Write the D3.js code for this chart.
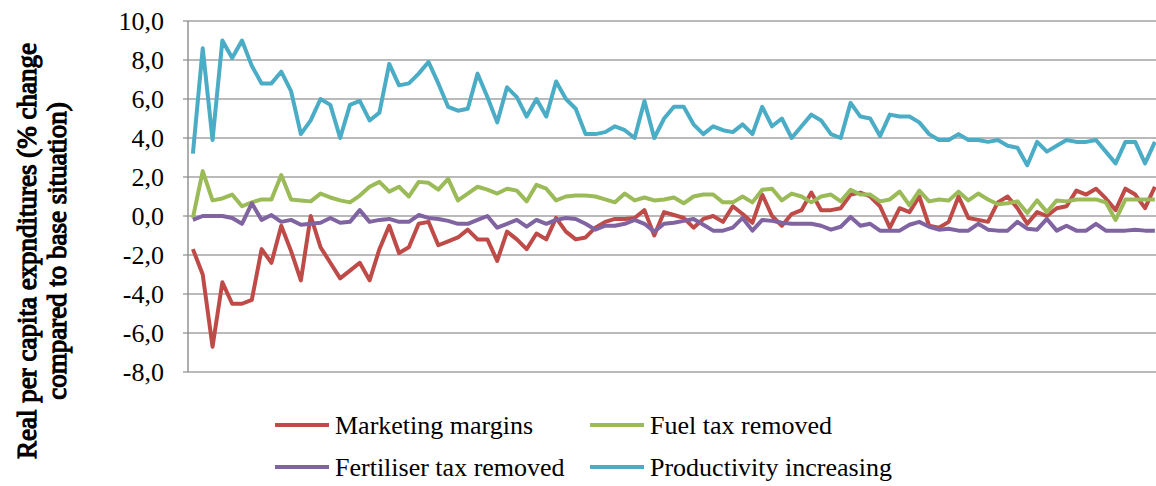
<!DOCTYPE html>
<html>
<head>
<meta charset="utf-8">
<script src="https://d3js.org/d3.v7.min.js"></script>
<style>
  body { margin: 0; background: #fff; }
  svg text { font-family: "Liberation Serif", "Times New Roman", serif; fill: #000; }
</style>
</head>
<body>
<div id="chart"></div>
<script>
// values, one point per region (99)
var marketing = [-1.7, -3.0, -6.7, -3.4, -4.5, -4.5, -4.3, -1.7, -2.4, -0.5,
  -1.8, -3.3, 0.0, -1.6, -2.4, -3.2, -2.8, -2.4, -3.3, -1.7,
  -0.5, -1.9, -1.6, -0.4, -0.3, -1.5, -1.3, -1.1, -0.7, -1.2,
  -1.2, -2.3, -0.8, -1.2, -1.7, -0.9, -1.2, -0.1, -0.8, -1.2,
  -1.1, -0.6, -0.3, -0.15, -0.15, -0.1, 0.3, -1.0, 0.2, 0.05,
  -0.1, -0.6, -0.15, 0.0, -0.3, 0.5, 0.1, -0.35, 1.1, 0.0,
  -0.5, 0.1, 0.3, 1.2, 0.3, 0.3, 0.4, 1.1, 1.2, 1.0,
  0.5, -0.6, 0.4, 0.2, 1.0, -0.5, -0.6, -0.3, 1.0, -0.1,
  -0.2, -0.3, 0.7, 1.0, 0.4, -0.4, 0.2, 0.0, 0.4, 0.5,
  1.3, 1.1, 1.4, 0.9, 0.3, 1.4, 1.1, 0.4, 1.5];

var fuelTax = [-0.1, 2.3, 0.8, 0.9, 1.1, 0.5, 0.7, 0.85, 0.85, 2.1,
  0.85, 0.8, 0.75, 1.15, 0.95, 0.8, 0.7, 1.05, 1.5, 1.75,
  1.25, 1.5, 1.0, 1.75, 1.7, 1.35, 1.9, 0.8, 1.15, 1.5,
  1.35, 1.15, 1.4, 1.3, 0.75, 1.6, 1.4, 0.8, 1.0, 1.05,
  1.05, 1.0, 0.85, 0.7, 1.15, 0.8, 0.95, 0.8, 0.85, 0.95,
  0.65, 1.0, 1.1, 1.1, 0.7, 0.7, 1.0, 0.7, 1.35, 1.4,
  0.8, 1.15, 1.0, 0.7, 1.0, 1.1, 0.75, 1.35, 1.1, 1.1,
  0.75, 0.85, 1.25, 0.55, 1.3, 0.75, 0.85, 0.8, 1.25, 0.8,
  1.15, 0.85, 0.6, 0.65, 0.75, 0.15, 0.8, 0.2, 0.8, 0.75,
  0.85, 0.85, 0.85, 0.7, -0.2, 0.85, 0.85, 0.85, 0.85];

var fertiliserTax = [-0.2, 0.0, 0.0, 0.0, -0.1, -0.4, 0.65, -0.2, 0.05, -0.3,
  -0.2, -0.45, -0.4, -0.35, -0.1, -0.35, -0.3, 0.3, -0.3, -0.2,
  -0.15, -0.3, -0.3, 0.05, -0.1, -0.15, -0.25, -0.4, -0.4, -0.2,
  0.0, -0.6, -0.4, -0.2, -0.55, -0.2, -0.4, -0.2, -0.1, -0.15,
  -0.4, -0.7, -0.5, -0.5, -0.4, -0.2, -0.4, -0.8, -0.4, -0.35,
  -0.25, -0.15, -0.45, -0.75, -0.75, -0.6, -0.1, -0.75, -0.2, -0.25,
  -0.35, -0.4, -0.4, -0.4, -0.5, -0.7, -0.55, -0.05, -0.5, -0.4,
  -0.75, -0.75, -0.75, -0.45, -0.3, -0.55, -0.7, -0.65, -0.75, -0.75,
  -0.4, -0.7, -0.75, -0.75, -0.3, -0.65, -0.7, -0.15, -0.75, -0.5,
  -0.75, -0.75, -0.4, -0.75, -0.75, -0.75, -0.7, -0.75, -0.75];

var productivity = [3.2, 8.6, 3.9, 9.0, 8.1, 9.0, 7.7, 6.8, 6.8, 7.4,
  6.4, 4.2, 4.9, 6.0, 5.7, 4.0, 5.7, 5.9, 4.9, 5.3,
  7.8, 6.7, 6.8, 7.3, 7.9, 6.8, 5.6, 5.4, 5.5, 7.3,
  6.1, 4.8, 6.6, 6.1, 5.1, 6.0, 5.1, 6.9, 6.0, 5.5,
  4.2, 4.2, 4.3, 4.6, 4.4, 4.0, 5.9, 4.0, 5.0, 5.6,
  5.6, 4.7, 4.2, 4.6, 4.4, 4.3, 4.7, 4.2, 5.6, 4.6,
  5.0, 4.0, 4.6, 5.2, 4.9, 4.2, 4.0, 5.8, 5.1, 5.0,
  4.1, 5.2, 5.1, 5.1, 4.8, 4.2, 3.9, 3.9, 4.2, 3.9,
  3.9, 3.8, 3.9, 3.6, 3.5, 2.6, 3.8, 3.3, 3.6, 3.9,
  3.8, 3.8, 3.9, 3.3, 2.7, 3.8, 3.8, 2.7, 3.8];

var seriesNames = ["Marketing margins", "Fuel tax removed", "Fertiliser tax removed", "Productivity increasing"];
var seriesColors = ["#BE4B48", "#9BBB59", "#8064A2", "#4BACC6"];
var yTicks = [-8, -6, -4, -2, 0, 2, 4, 6, 8, 10];

var width = 1156, height = 486;
var svg = d3.select("#chart").append("svg")
  .attr("width", width)
  .attr("height", height);

var plotLeft = 188, plotTop = 21, plotBottom = 372;
var step = 9.816;
var n = productivity.length;

var x = d3.scaleBand()
  .domain(d3.range(n))
  .range([plotLeft, plotLeft + n * step]);

var y = d3.scaleLinear()
  .domain([-8, 10])
  .range([plotBottom, plotTop]);

// gridlines
svg.append("g")
  .selectAll("line")
  .data(yTicks)
  .enter()
  .append("line")
  .attr("x1", plotLeft - 5)
  .attr("x2", width)
  .attr("y1", function(d) { return y(d); })
  .attr("y2", function(d) { return y(d); })
  .attr("stroke", "#a3a3a3")
  .attr("stroke-width", 1.4);

// left axis line
svg.append("line")
  .attr("x1", plotLeft).attr("x2", plotLeft)
  .attr("y1", plotTop).attr("y2", plotBottom)
  .attr("stroke", "#8c8c8c")
  .attr("stroke-width", 1.4);

// tick labels
svg.append("g")
  .selectAll("text")
  .data(yTicks)
  .enter()
  .append("text")
  .attr("x", 164)
  .attr("y", function(d) { return y(d); })
  .attr("dy", "0.35em")
  .attr("text-anchor", "end")
  .style("font-size", "26px")
  .text(function(d) { return d3.format(".1f")(d).replace(".", ",").replace("−", "-"); });

// y axis title (serif, thickened with a thin stroke)
var title = svg.append("text")
  .attr("transform", "translate(0,251) rotate(-90)")
  .attr("text-anchor", "middle")
  .style("font-size", "27px")
  .style("stroke", "#000")
  .style("stroke-width", "1.2px");
title.append("tspan").attr("x", 0).attr("y", 36).text("Real per capita expnditures (% change");
title.append("tspan").attr("x", 0).attr("y", 66).text("compared to base situation)");

// lines
var allSeries = [marketing, fuelTax, fertiliserTax, productivity];
var line = d3.line()
  .x(function(d, i) { return x(i) + x.bandwidth() / 2; })
  .y(function(d) { return y(d); });

svg.append("g")
  .selectAll("path")
  .data(allSeries)
  .enter()
  .append("path")
  .attr("d", line)
  .attr("fill", "none")
  .attr("stroke", function(d, i) { return seriesColors[i]; })
  .attr("stroke-width", 4)
  .attr("stroke-linejoin", "round");

// legend
var legendX = [275, 590];
var legendY = [425, 467];
var legend = svg.append("g")
  .selectAll("g")
  .data(seriesNames)
  .enter()
  .append("g")
  .attr("transform", function(d, i) {
    return "translate(" + legendX[i % 2] + "," + legendY[Math.floor(i / 2)] + ")";
  });

legend.append("line")
  .attr("x1", 0).attr("x2", 54)
  .attr("stroke", function(d, i) { return seriesColors[i]; })
  .attr("stroke-width", 4);

legend.append("text")
  .attr("x", 60)
  .attr("dy", "0.33em")
  .style("font-size", "26px")
  .text(function(d) { return d; });
</script>
</body>
</html>
